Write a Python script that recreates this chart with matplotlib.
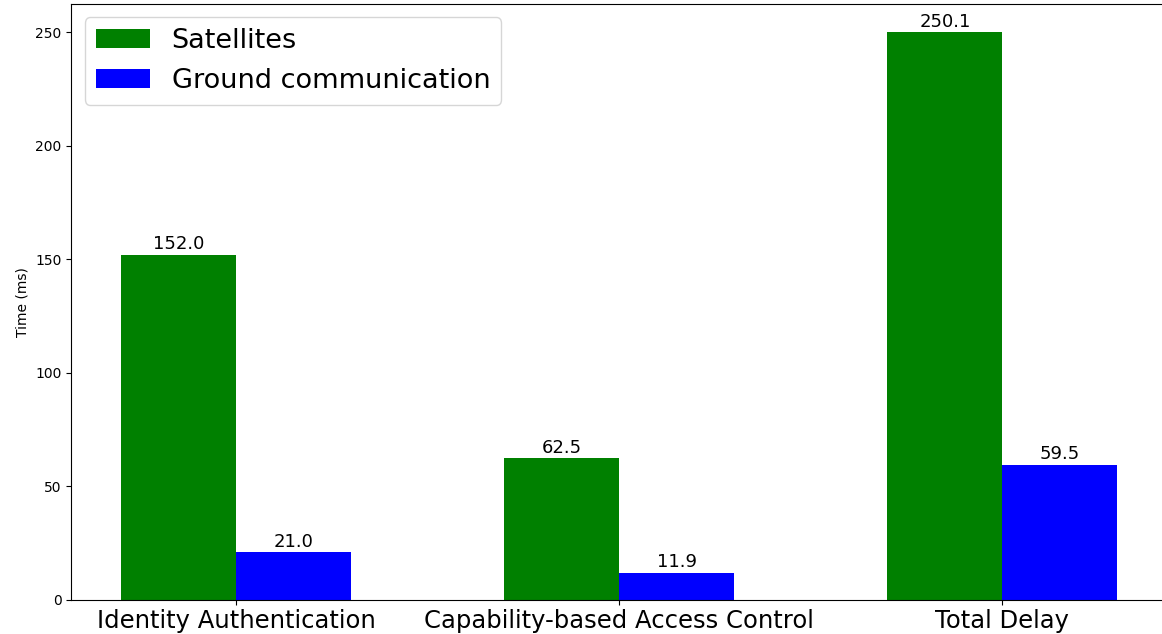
import numpy as np
import matplotlib
matplotlib.use('Agg')
import matplotlib.pyplot as plt

categories = ['Identity Authentication', 'Capability-based Access Control', 'Total Delay']
satellites = [152.0, 62.5, 250.1]
ground = [21.0, 11.9, 59.5]

x = np.arange(len(categories))
width = 0.3

fig = plt.figure(figsize=(11.62, 6.34), dpi=100)
# the right spine sits just past the image edge in the reference
ax = fig.add_axes([0.0614, 0.054, 0.943, 0.940])

b1 = ax.bar(x, satellites, -width, align='edge', color='green', label='Satellites')
b2 = ax.bar(x, ground, width, align='edge', color='blue', label='Ground communication')

for bars in (b1, b2):
    for rect in bars:
        h = rect.get_height()
        ax.annotate('%.1f' % h, xy=(rect.get_x() + rect.get_width() / 2, h),
                    xytext=(0, 1), textcoords='offset points',
                    ha='center', va='bottom', fontsize=13)

ax.set_xticks(x)
ax.set_xticklabels(categories, fontsize=17.5)
ax.set_ylabel('Time (ms)')
ax.legend(fontsize=19.5, loc='upper left')

fig.savefig('out.png', dpi=100)
